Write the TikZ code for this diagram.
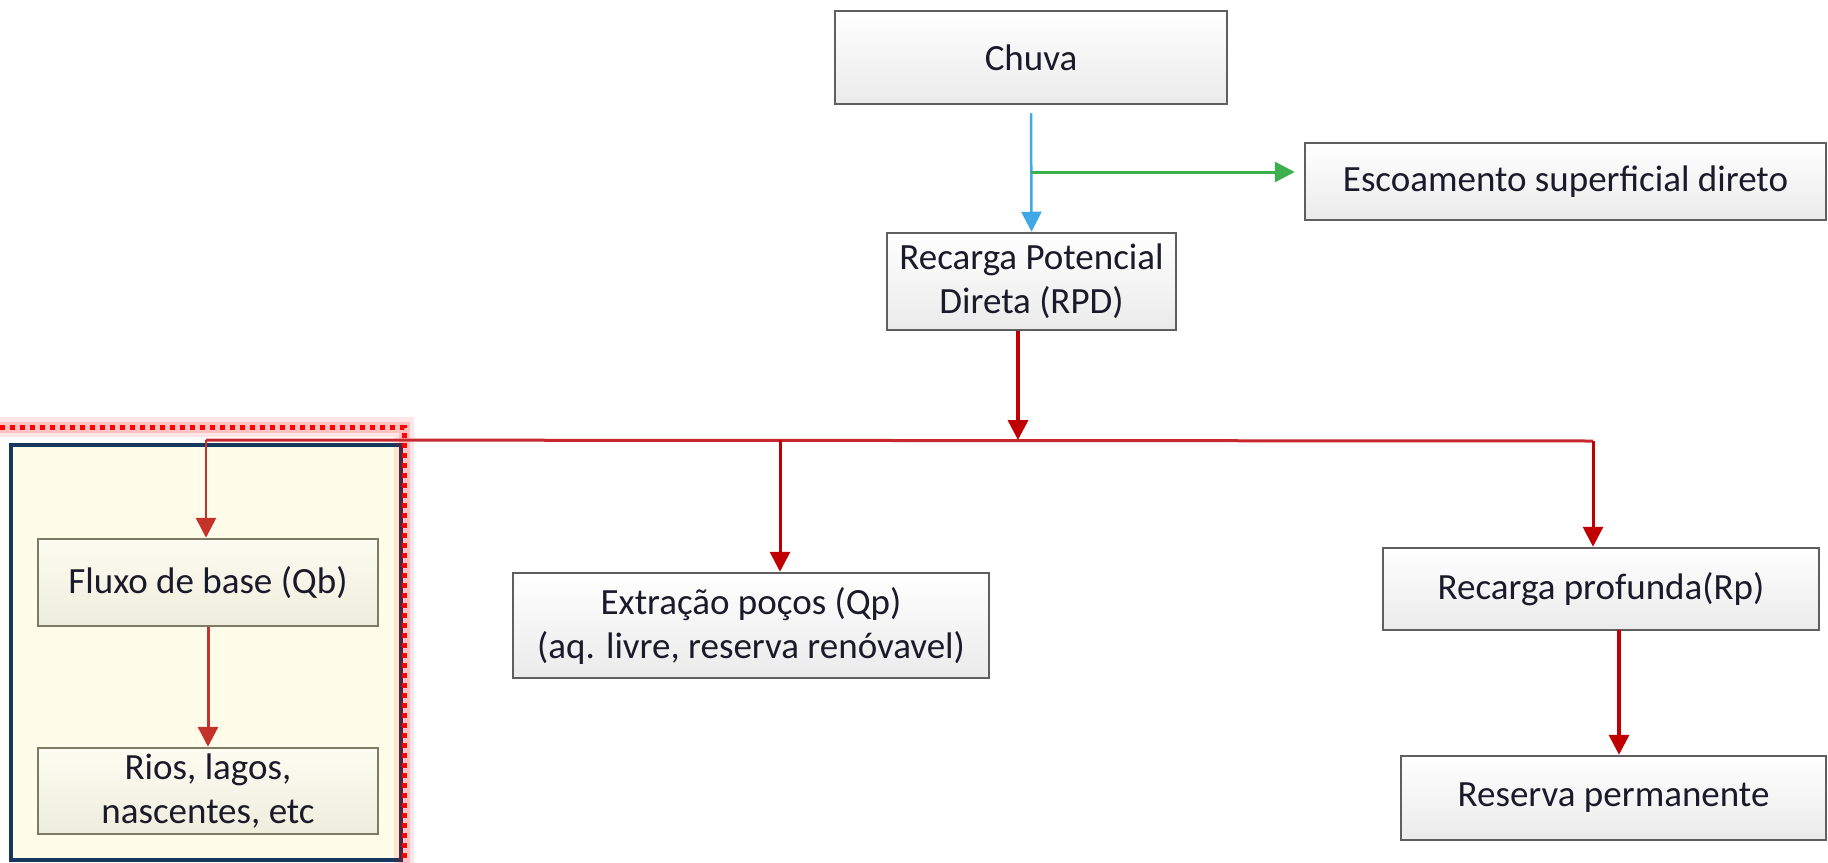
\documentclass[tikz,border=0pt]{standalone}
\usepackage{fontspec}
\setmainfont{Carlito}
\usetikzlibrary{arrows.meta}
\definecolor{darkred}{HTML}{C00000}
\definecolor{brick}{HTML}{C4322A}
\definecolor{hline}{HTML}{C8282D}
\definecolor{skyb}{HTML}{3FA9E8}
\definecolor{grn}{HTML}{3BB04B}
\definecolor{bordgray}{HTML}{5F5F5F}
\definecolor{txt}{HTML}{1A1A2A}
\definecolor{panelfill}{HTML}{FFFDEA}
\definecolor{navy}{HTML}{17375E}
\definecolor{olivebord}{HTML}{7D7B66}
\definecolor{creamtop}{HTML}{FDFCF2}
\definecolor{creambot}{HTML}{EFEDDC}
\tikzset{
  graybox/.style={draw=bordgray, line width=2.5pt, top color=white, bottom color=black!8,
    inner sep=0pt, align=center, text=txt, font=\fontsize{37}{44}\selectfont},
  creambox/.style={draw=olivebord, line width=2.5pt, top color=creamtop, bottom color=creambot,
    inner sep=0pt, align=center, text=txt, font=\fontsize{37}{44}\selectfont},
  tip/.style={-{Triangle[width=20pt,length=20pt]}},
}
\begin{document}
\begin{tikzpicture}[x=1pt,y=-1pt]
\useasboundingbox (0,0) rectangle (1828,862);
\clip (0,0) rectangle (1828,862);
\fill[white] (0,0) rectangle (1828,862);

% left panel
\draw[navy, line width=4pt, fill=panelfill] (11,445) rectangle (401,860);
\draw[red, opacity=0.1, line width=20pt] (-20,427) -- (404,427) -- (404,890);
\draw[red, opacity=0.15, line width=11pt] (-20,427) -- (404,427) -- (404,890);
\draw[red, line width=5pt, dash pattern=on 5pt off 5pt] (-20,427) -- (404,427) -- (404,890);

% nodes
\node[graybox, minimum width=392pt, minimum height=93pt] (chuva) at (1031,57.5) {Chuva};
\node[graybox, minimum width=521pt, minimum height=77pt] (esc) at (1565.5,181.5) {Escoamento superficial direto};
\node[graybox, minimum width=289pt, minimum height=97pt] (rpd) at (1031.5,281.5) {Recarga Potencial\\Direta (RPD)};
\node[graybox, minimum width=476pt, minimum height=105pt] (ext) at (751,625.5) {Extração poços (Qp)\\(aq. livre, reserva renóvavel)};
\node[graybox, minimum width=436pt, minimum height=82pt] (rp) at (1601,589) {Recarga profunda(Rp)};
\node[graybox, minimum width=425pt, minimum height=84pt] (res) at (1613.5,798) {Reserva permanente};
\node[creambox, minimum width=340pt, minimum height=87pt] (fluxo) at (208,582.5) {Fluxo de base (Qb)};
\node[creambox, minimum width=340pt, minimum height=86pt] (rios) at (208,791) {Rios, lagos,\\nascentes, etc};

% junction coordinates
\coordinate (g) at (1031,172);
\coordinate (jc) at (1018,440);
\coordinate (jl) at (206,440);
\coordinate (jm) at (780,440);
\coordinate (jr) at (1593,441);
\coordinate (rd) at (1619,630);

% connectors
\draw[skyb, line width=2.5pt, tip, shorten <=8pt] (chuva.south) -- (rpd.north);
\draw[grn, line width=3pt, tip, shorten >=9pt] (g) -- (g -| esc.west);
\draw[darkred, line width=3.5pt, tip] (rpd.south -| jc) -- (jc);
\draw[hline, line width=3pt] (jl) -- (jr);
\draw[brick, line width=2.8pt, tip] (jl) -- (jl |- fluxo.north);
\draw[darkred, line width=3pt, tip] (jm) -- (jm |- ext.north);
\draw[darkred, line width=3pt, tip] (jr) -- (jr |- rp.north);
\draw[brick, line width=3pt, tip] (fluxo.south) -- (rios.north);
\draw[darkred, line width=3.5pt, tip] (rd) -- (rd |- res.north);
\end{tikzpicture}
\end{document}
